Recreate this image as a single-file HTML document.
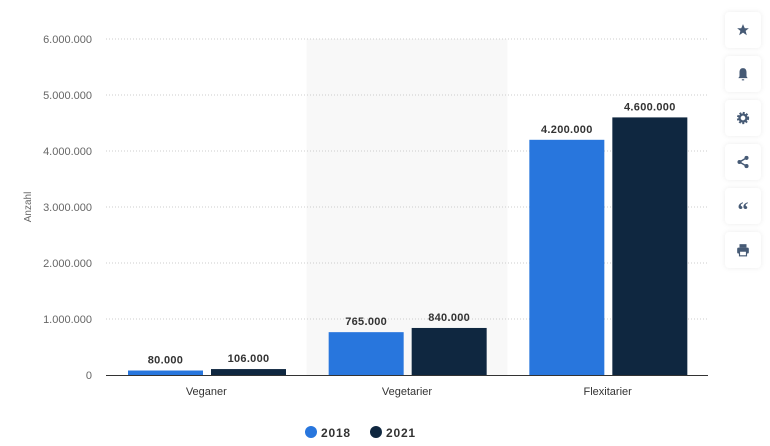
<!DOCTYPE html>
<html><head><meta charset="utf-8"><style>
body{margin:0;width:770px;height:446px;background:#fff;font-family:"Liberation Sans",sans-serif;position:relative;overflow:hidden}
.btn{position:absolute;left:725px;width:36px;height:36px;background:#fff;border-radius:4px;box-shadow:0 0 6px rgba(0,0,0,0.08);display:flex;align-items:center;justify-content:center}
</style></head><body>
<svg id="chart" width="710" height="446" style="position:absolute;left:0;top:0"></svg>
<div class="btn" style="top:12px"><svg width="14" height="14" viewBox="0 0 24 24"><path d="M12 2l3 7h7l-5.5 4.5 2 7.5-6.5-4.5-6.5 4.5 2-7.5L2 9h7z" fill="#465a75"/></svg></div>
<div class="btn" style="top:56px"><svg width="14" height="14" viewBox="0 0 24 24"><path d="M12 2c-4 0-6 3-6 7v7l-2 3h16l-2-3V9c0-4-2-7-6-7zM10 21h4v2h-4z" fill="#465a75"/></svg></div>
<div class="btn" style="top:100px"><svg width="14" height="14" viewBox="0 0 24 24"><circle cx="12" cy="12" r="8" fill="none" stroke="#465a75" stroke-width="5" stroke-dasharray="3 2.3"/><circle cx="12" cy="12" r="6" fill="none" stroke="#465a75" stroke-width="4"/></svg></div>
<div class="btn" style="top:144px"><svg width="14" height="14" viewBox="0 0 24 24"><path d="M18 5L6 12l12 7" stroke="#465a75" stroke-width="2.5" fill="none"/><circle cx="18" cy="5" r="3.5" fill="#465a75"/><circle cx="6" cy="12" r="3.5" fill="#465a75"/><circle cx="18" cy="19" r="3.5" fill="#465a75"/></svg></div>
<div class="btn" style="top:188px"><span style="color:#465a75;font-weight:bold;font-size:22px;line-height:18px;margin-top:8px;font-family:'Liberation Serif',serif">&#8220;</span></div>
<div class="btn" style="top:232px"><svg width="14" height="14" viewBox="0 0 24 24"><rect x="6" y="2" width="12" height="6" fill="#465a75"/><rect x="2" y="8" width="20" height="10" rx="2" fill="#465a75"/><rect x="6" y="14" width="12" height="8" fill="#fff" stroke="#465a75" stroke-width="2"/></svg></div>
<script>
const categories=["Veganer","Vegetarier","Flexitarier"];
const series2018=[80000,765000,4200000];
const series2021=[106000,840000,4600000];
const seriesNames=["2018","2021"];
const yTicks=[0,1000000,2000000,3000000,4000000,5000000,6000000];
const colors=["#2876dd","#0f2740"];
const svg=document.getElementById('chart');
const NS="http://www.w3.org/2000/svg";
const x0=106,x1=708,yB=375,yT=39,yMax=6000000;
const bw=(x1-x0)/categories.length;
function y(v){return yB-(v/yMax)*(yB-yT);}
function fmt(v){return v.toString().replace(/\B(?=(\d{3})+(?!\d))/g,".");}
function el(t,a,txt){const e=document.createElementNS(NS,t);for(const k in a)e.setAttribute(k,a[k]);if(txt!=null)e.textContent=txt;svg.appendChild(e);return e;}
let hl=el('rect',{x:x0+bw,y:yT,width:bw,height:yB-yT,fill:'#f8f8f8'});


yTicks.forEach(t=>{
 if(t>0){let g=el('line',{x1:x0,x2:x1,y1:y(t),y2:y(t),stroke:'#ccc','stroke-dasharray':'1 2'});
 
 }
 let l=el('text',{x:92,y:y(t)+4,'text-anchor':'end','font-size':11,fill:'#666'},fmt(t));
 
 
});
let ax=el('line',{x1:x0,x2:x1,y1:yB+0.5,y2:yB+0.5,stroke:'#333'});


let yt=el('text',{x:0,y:0,transform:'translate(31,207) rotate(-90)','text-anchor':'middle','font-size':10,fill:'#666'},'Anzahl');


[series2018,series2021].forEach((s,si)=>{
 s.forEach((v,i)=>{
  const bx=x0+i*bw+22+si*83;
  let r=el('rect',{x:bx,y:y(v),width:75,height:yB-y(v),fill:colors[si]});
  
  
  let t=el('text',{x:bx+37.5,y:y(v)-7,'text-anchor':'middle','font-size':11,'font-weight':'bold',fill:'#333','letter-spacing':'0.3'},fmt(v));
  
  
 });
});
categories.forEach((c,i)=>{
 let t=el('text',{x:x0+i*bw+bw/2,y:395,'text-anchor':'middle','font-size':11,fill:'#333'},c);
 
 
});
seriesNames.forEach((n,i)=>{
 const lx=311+i*65;
 let c=el('circle',{cx:lx,cy:432,r:6,fill:colors[i]});
 
 
 let t=el('text',{x:lx+10,y:437,'font-size':12,'font-weight':'bold',fill:'#333','letter-spacing':'0.8'},n);
 
 
});
</script>
</body></html>
